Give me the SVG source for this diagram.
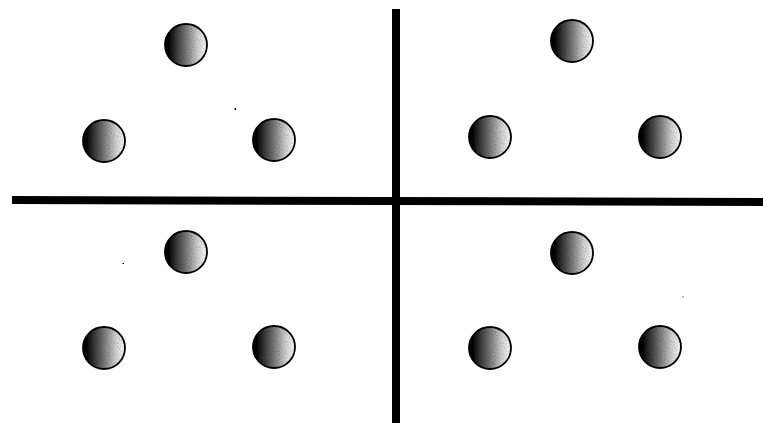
<svg xmlns="http://www.w3.org/2000/svg" width="763" height="423" viewBox="0 0 763 423">
  <defs>
    <linearGradient id="shade" x1="0" y1="0" x2="1" y2="0">
      <stop offset="0" stop-color="#000"/>
      <stop offset="0.12" stop-color="#111"/>
      <stop offset="0.45" stop-color="#6a6a6a"/>
      <stop offset="0.8" stop-color="#d8d8d8"/>
      <stop offset="1" stop-color="#fff"/>
    </linearGradient>
    <filter id="grain" x="0" y="0" width="1" height="1">
      <feTurbulence type="fractalNoise" baseFrequency="0.9" numOctaves="1" seed="3" result="n"/>
      <feColorMatrix in="n" type="matrix" values="0 0 0 0 0  0 0 0 0 0  0 0 0 0 0  0 0 0 0.9 -0.35" result="dots"/>
      <feComposite in="dots" in2="SourceGraphic" operator="in" result="d2"/>
      <feMerge><feMergeNode in="SourceGraphic"/><feMergeNode in="d2"/></feMerge>
    </filter>
    <symbol id="ball" overflow="visible">
      <circle cx="0" cy="0" r="21" fill="url(#shade)" filter="url(#grain)"/>
      <circle cx="0" cy="0" r="21" fill="none" stroke="#000" stroke-width="1.8"/>
    </symbol>
  </defs>
  <style>
    .line { stroke: #000; stroke-width: 8; fill: none; }
    .speck { fill: #000; }
  </style>
  <rect width="763" height="423" fill="#fff"/>
  <g id="connectors">
    <line class="line" x1="396" y1="9" x2="396" y2="423"/>
    <line class="line" x1="12" y1="200" x2="763" y2="202"/>
  </g>
  <g id="tl-top"><use href="#ball" x="186" y="45"/></g>
  <g id="tl-left"><use href="#ball" x="104" y="141"/></g>
  <g id="tl-right"><use href="#ball" x="274" y="140"/></g>
  <g id="tr-top"><use href="#ball" x="572" y="41"/></g>
  <g id="tr-left"><use href="#ball" x="490" y="137"/></g>
  <g id="tr-right"><use href="#ball" x="660" y="137"/></g>
  <g id="bl-top"><use href="#ball" x="186" y="252"/></g>
  <g id="bl-left"><use href="#ball" x="104" y="348"/></g>
  <g id="bl-right"><use href="#ball" x="274" y="347"/></g>
  <g id="br-top"><use href="#ball" x="572" y="253"/></g>
  <g id="br-left"><use href="#ball" x="490" y="348"/></g>
  <g id="br-right"><use href="#ball" x="660" y="347"/></g>
  <g id="specks">
    <rect class="speck" x="234.5" y="108" width="1.5" height="2"/>
    <rect class="speck" x="122.5" y="263" width="1.5" height="1"/>
    <rect class="speck" x="682.5" y="296.5" width="1" height="1"/>
  </g>
</svg>
